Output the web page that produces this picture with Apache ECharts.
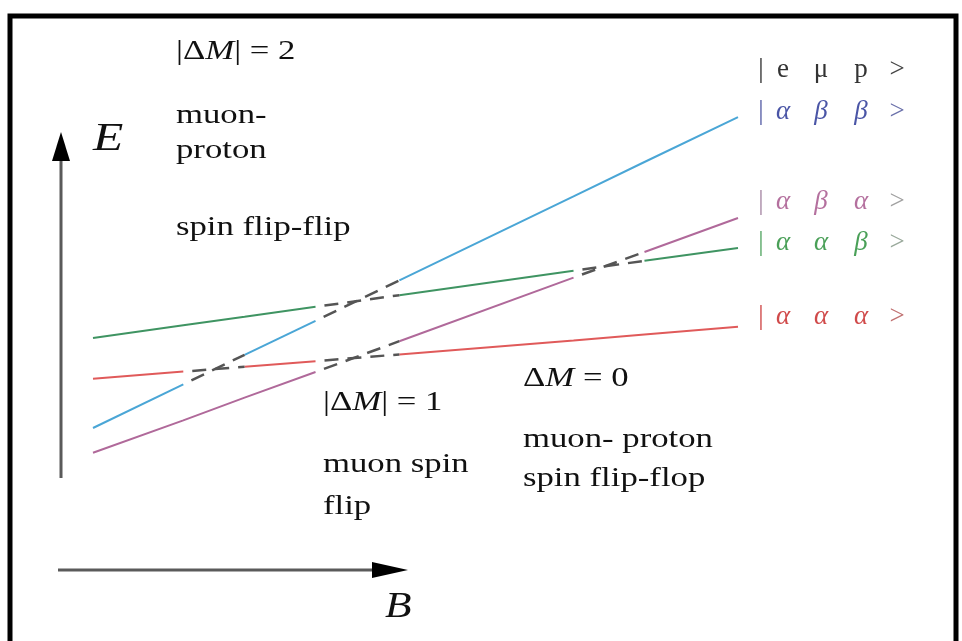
<!DOCTYPE html>
<html>
<head>
<meta charset="utf-8">
<script src="https://cdn.jsdelivr.net/npm/echarts@6/dist/echarts.min.js"></script>
<style>
  html, body { margin: 0; padding: 0; background: #ffffff; }
  #chart { width: 962px; height: 641px; }
</style>
</head>
<body>
<div id="chart"></div>
<script>
// Field strength B at the knots where the line style changes
const fieldB = [0, 1.4, 2.35, 3.45, 4.75, 7.45, 8.55, 10];

// Energy of each hyperfine level |e mu p> at those knots
const levelABB = [1.80, 2.89, 3.63, 4.48, 5.49, 7.59, 8.45, 9.57];
const levelABA = [1.18, 1.99, 2.56, 3.20, 3.97, 5.56, 6.20, 7.05];
const levelAAB = [4.05, 4.37, 4.58, 4.83, 5.12, 5.73, 5.98, 6.30];
const levelAAA = [3.03, 3.21, 3.33, 3.47, 3.64, 3.99, 4.14, 4.33];

// Knot intervals (i -> i+1) drawn dashed where two levels cross
const crossABB = [1, 3];
const crossABA = [3, 5];
const crossAAB = [3, 5];
const crossAAA = [1, 3];

// State labels on the right, one glyph per column
const ketRows = ['|eμp>', '|αββ>', '|αβα>', '|ααβ>', '|ααα>'];

const SERIF = '"Liberation Serif", "Times New Roman", serif';
const STRETCH = 1.24;
const INK = '#111111';

const levels = [
  { name: '|αββ>', values: levelABB, cross: crossABB, color: '#4aa6d6' },
  { name: '|αβα>', values: levelABA, cross: crossABA, color: '#b0699a' },
  { name: '|ααβ>', values: levelAAB, cross: crossAAB, color: '#3f9462' },
  { name: '|ααα>', values: levelAAA, cross: crossAAA, color: '#e05a5a' }
];

function pt(values, k) { return [fieldB[k], values[k]]; }

function buildSeries(level) {
  const out = [];
  let run = [];
  const flush = () => {
    if (run.length > 1) {
      out.push({
        type: 'line', name: level.name, data: run, symbol: 'none', silent: true,
        lineStyle: { color: level.color, width: 2 }, z: 2
      });
    }
    run = [];
  };
  for (let i = 0; i < fieldB.length - 1; i++) {
    if (level.cross.includes(i)) {
      flush();
      out.push({
        type: 'line', name: level.name + ' crossing', data: [pt(level.values, i), pt(level.values, i + 1)],
        symbol: 'none', silent: true,
        lineStyle: { color: '#555555', width: 2.5, type: [14, 9], dashOffset: 14 }, z: 3
      });
    } else {
      if (run.length === 0) run.push(pt(level.values, i));
      run.push(pt(level.values, i + 1));
    }
  }
  flush();
  return out;
}

const series = [];
levels.forEach(l => series.push(...buildSeries(l)));

function label(str, x, y, size, rich) {
  return {
    type: 'text', x: x, y: y, scaleX: STRETCH, silent: true,
    style: {
      text: str, x: 0, y: 0,
      font: size + 'px ' + SERIF,
      fill: INK,
      align: 'left', verticalAlign: 'middle',
      textAlign: 'left', textVerticalAlign: 'middle',
      rich: rich || undefined
    }
  };
}

const italicM = { i: { fontStyle: 'italic', fontSize: 28, fontFamily: SERIF, fill: INK } };

const graphics = [
  // frame
  { type: 'rect', silent: true, shape: { x: 10, y: 16, width: 946, height: 650 },
    style: { fill: 'none', stroke: '#000000', lineWidth: 5 } },
  // energy axis
  { type: 'line', silent: true, shape: { x1: 61, y1: 478, x2: 61, y2: 150 },
    style: { stroke: '#5a5a5a', lineWidth: 3 } },
  { type: 'polygon', silent: true, shape: { points: [[61, 132], [52, 161], [70, 161]] },
    style: { fill: '#000000' } },
  // field axis
  { type: 'line', silent: true, shape: { x1: 58, y1: 570, x2: 380, y2: 570 },
    style: { stroke: '#5a5a5a', lineWidth: 3 } },
  { type: 'polygon', silent: true, shape: { points: [[408, 570], [372, 562], [372, 578]] },
    style: { fill: '#000000' } },
  // axis names
  {
    type: 'text', x: 93, y: 139, scaleX: STRETCH, silent: true,
    style: { text: 'E', x: 0, y: 0, font: 'italic 40px ' + SERIF, fill: INK,
      align: 'left', verticalAlign: 'middle', textAlign: 'left', textVerticalAlign: 'middle' }
  },
  {
    type: 'text', x: 385, y: 608, scaleX: STRETCH, silent: true,
    style: { text: 'B', x: 0, y: 0, font: 'italic 35px ' + SERIF, fill: INK,
      align: 'left', verticalAlign: 'middle', textAlign: 'left', textVerticalAlign: 'middle' }
  },
  // transition annotations
  label('|Δ{i|M}| = 2', 176, 52, 28, italicM),
  label('muon-', 176, 116, 28),
  label('proton', 176, 151, 28),
  label('spin flip-flip', 176, 228, 28),
  label('|Δ{i|M}| = 1', 323, 403, 28, italicM),
  label('muon spin', 323, 465, 28),
  label('flip', 323, 507, 28),
  label('Δ{i|M} = 0', 523, 379, 28, italicM),
  label('muon- proton', 523, 440, 28),
  label('spin flip-flop', 523, 479, 28)
];

// state kets
const ketCols = [761, 783, 821, 861, 897];
const ketY = [70, 112, 202, 243, 317];
const ketColors = [
  ['#333333', '#333333', '#333333', '#333333', '#444444'],
  ['#5a62a8', '#4a55a6', '#4a55a6', '#4a55a6', '#6a70aa'],
  ['#a88aa6', '#b4709e', '#b4709e', '#b4709e', '#a0a0a0'],
  ['#58a866', '#4aa058', '#4aa058', '#4aa058', '#98a89a'],
  ['#d04a4a', '#d04a4a', '#d04a4a', '#d04a4a', '#c07070']
];
ketRows.forEach((row, r) => {
  Array.from(row).forEach((ch, c) => {
    const greek = ch === 'α' || ch === 'β';
    graphics.push({
      type: 'text', x: ketCols[c], y: ketY[r], silent: true,
      style: {
        text: ch, x: 0, y: 0,
        font: (greek ? 'italic ' : '') + '27px ' + SERIF,
        fill: ketColors[r][c],
        align: 'center', verticalAlign: 'middle',
        textAlign: 'center', textVerticalAlign: 'middle'
      }
    });
  });
});

const chart = echarts.init(document.getElementById('chart'), null, { renderer: 'canvas' });
chart.setOption({
  backgroundColor: '#ffffff',
  animation: false,
  grid: { left: 93, top: 100, width: 645, height: 400 },
  xAxis: { type: 'value', min: 0, max: 10, show: false },
  yAxis: { type: 'value', min: 0, max: 10, show: false },
  series: series,
  graphic: graphics
});
</script>
</body>
</html>
